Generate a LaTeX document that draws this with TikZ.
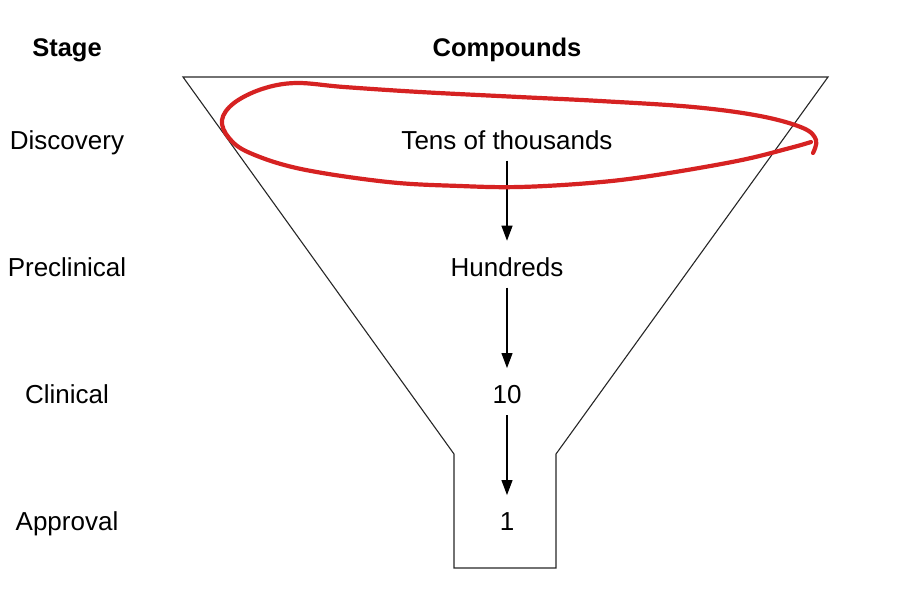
\documentclass[tikz,border=0pt]{standalone}
\usepackage{fontspec}
\setmainfont{Liberation Sans}
\usetikzlibrary{arrows.meta}
\definecolor{penred}{RGB}{214,34,34}
\begin{document}
\begin{tikzpicture}[x=1pt,y=-1pt,
  lbl/.style={inner sep=0pt,anchor=base,font=\fontsize{26}{30}\selectfont},
  hdr/.style={inner sep=0pt,anchor=base,font=\fontsize{25.5}{30}\selectfont\bfseries},
  funnel/.style={draw=black!85,line width=1.1pt,line join=miter},
  arr/.style={draw=black,line width=1.1pt,-{Triangle[length=15pt,width=11pt]},shorten <=21pt,shorten >=26pt},
  marker/.style={draw=penred,line width=4.2pt,line cap=round,line join=round}]
\useasboundingbox (0,0) rectangle (915,592);
% headers
\node[hdr] (hs) at (67,56) {Stage};
\node[hdr] (hc) at (507,56) {Compounds};
% stages
\node[lbl] (s1) at (67,149) {Discovery};
\node[lbl] (s2) at (67,276) {Preclinical};
\node[lbl] (s3) at (67,403) {Clinical};
\node[lbl] (s4) at (67,530) {Approval};
% compounds
\node[lbl] (c1) at (507,149) {Tens of thousands};
\node[lbl] (c2) at (507,276) {Hundreds};
\node[lbl] (c3) at (507,403) {10};
\node[lbl] (c4) at (507,530) {1};
% funnel
\coordinate (ftl) at (183,77);
\coordinate (ftr) at (828,77);
\coordinate (fml) at (454,454);
\coordinate (fmr) at (556,454);
\coordinate (fbl) at (454,568);
\coordinate (fbr) at (556,568);
\draw[funnel] (ftl) -- (ftr) -- (fmr) -- (fbr) -- (fbl) -- (fml) -- cycle;
% arrows
\draw[arr] (c1.center) -- (c2.center);
\draw[arr] (c2.center) -- (c3.center);
\draw[arr] (c3.center) -- (c4.center);
% red hand-drawn loop
\draw[marker] plot[smooth,tension=0.6] coordinates {
  (813,153) (816,140) (803,128) (760,116) (693,107) (600,101) (519,97) (420,92) (344,87) (296,83)
  (262,89) (234,103) (222,120) (229,138) (250,153) (301,169) (388,182) (460,186) (519,187)
  (590,183) (650,176) (737,161) (790,148) (811,142)};
\end{tikzpicture}
\end{document}
